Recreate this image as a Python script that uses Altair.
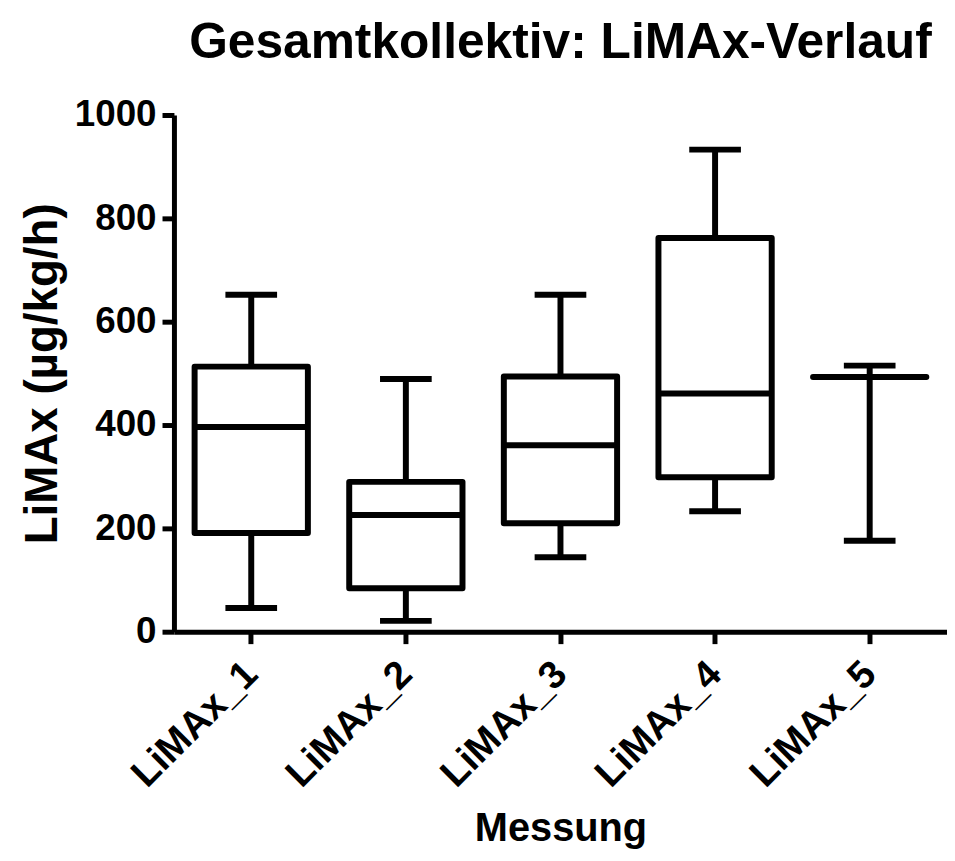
import altair as alt
import pandas as pd

categories = ["LiMAx_1", "LiMAx_2", "LiMAx_3", "LiMAx_4", "LiMAx_5"]
whisker_min = [46, 21, 144, 233, 176]
q1 = [191, 84, 210, 299, 493]
median = [396, 226, 361, 461, 493]
q3 = [513, 290, 494, 762, 493]
whisker_max = [652, 489, 652, 933, 515]
y_ticks = [0, 200, 400, 600, 800, 1000]

df = pd.DataFrame({
    "Messung": categories,
    "min": whisker_min,
    "q1": q1,
    "median": median,
    "q3": q3,
    "max": whisker_max,
})

FONT = "Liberation Sans"

x = alt.X(
    "Messung:N",
    sort=categories,
    title="Messung",
    scale=alt.Scale(paddingInner=0, paddingOuter=0),
    axis=alt.Axis(
        labelAngle=-45,
        labelAlign="right",
        labelBaseline="middle",
        labelFontSize=39,
        labelFont=FONT,
        labelFontWeight="bold",
        labelColor="black",
        labelPadding=24,
        tickSize=12,
        tickWidth=5,
        tickColor="black",
        domainColor="black",
        domainWidth=5,
        grid=False,
        titleFontSize=40,
        titleFont=FONT,
        titleFontWeight="bold",
        titleColor="black",
        titleBaseline="alphabetic",
        titleY=210,
    ),
)

yscale = alt.Scale(domain=[0, 1000], nice=False, zero=True)
yaxis = alt.Axis(
    values=y_ticks,
    format="d",
    labelFontSize=37,
    labelFont=FONT,
    labelFontWeight="bold",
    labelColor="black",
    labelPadding=6,
    tickSize=12,
    tickWidth=5,
    tickColor="black",
    domainColor="black",
    domainWidth=5,
    grid=False,
    title="LiMAx (µg/kg/h)",
    titleFontSize=46,
    titleFont=FONT,
    titleFontWeight="bold",
    titleColor="black",
    titlePadding=8,
)

base = alt.Chart(df)

lower = base.mark_rule(color="black", strokeWidth=6).encode(
    x=x,
    y=alt.Y("min:Q", scale=yscale, axis=yaxis),
    y2="q1:Q",
)
upper = base.mark_rule(color="black", strokeWidth=6).encode(
    x=x, y=alt.Y("q3:Q", axis=yaxis), y2="max:Q"
)
box = base.mark_bar(
    size=114, fill="white", stroke="black", strokeWidth=6, strokeJoin="round"
).encode(x=x, y=alt.Y("q1:Q", axis=yaxis), y2="q3:Q")
med = base.mark_tick(size=114, thickness=6, color="black", opacity=1).encode(
    x=x, y=alt.Y("median:Q", axis=yaxis)
)
capmin = base.mark_tick(size=52, thickness=6, color="black", opacity=1).encode(
    x=x, y=alt.Y("min:Q", axis=yaxis)
)
capmax = base.mark_tick(size=52, thickness=6, color="black", opacity=1).encode(
    x=x, y=alt.Y("max:Q", axis=yaxis)
)

chart = (
    alt.layer(lower, upper, box, med, capmin, capmax)
    .properties(
        width=778,
        height=520,
        view=alt.ViewBackground(stroke="transparent", strokeWidth=0, fill="white"),
        autosize=alt.AutoSizeParams(type="none"),
        padding={"left": 167, "top": 105, "right": 0, "bottom": 218},
        title=alt.Title(
            "Gesamtkollektiv: LiMAx-Verlauf",
            fontSize=50,
            font=FONT,
            fontWeight="bold",
            color="black",
            anchor="middle",
            offset=28,
        ),
    )
    .configure_view(stroke="transparent", strokeWidth=0, strokeOpacity=0)
    .configure_axis(grid=False, gridOpacity=0)
    .configure(background="white")
)

chart.save("out.html", embed_options={"renderer": "svg", "actions": False})
